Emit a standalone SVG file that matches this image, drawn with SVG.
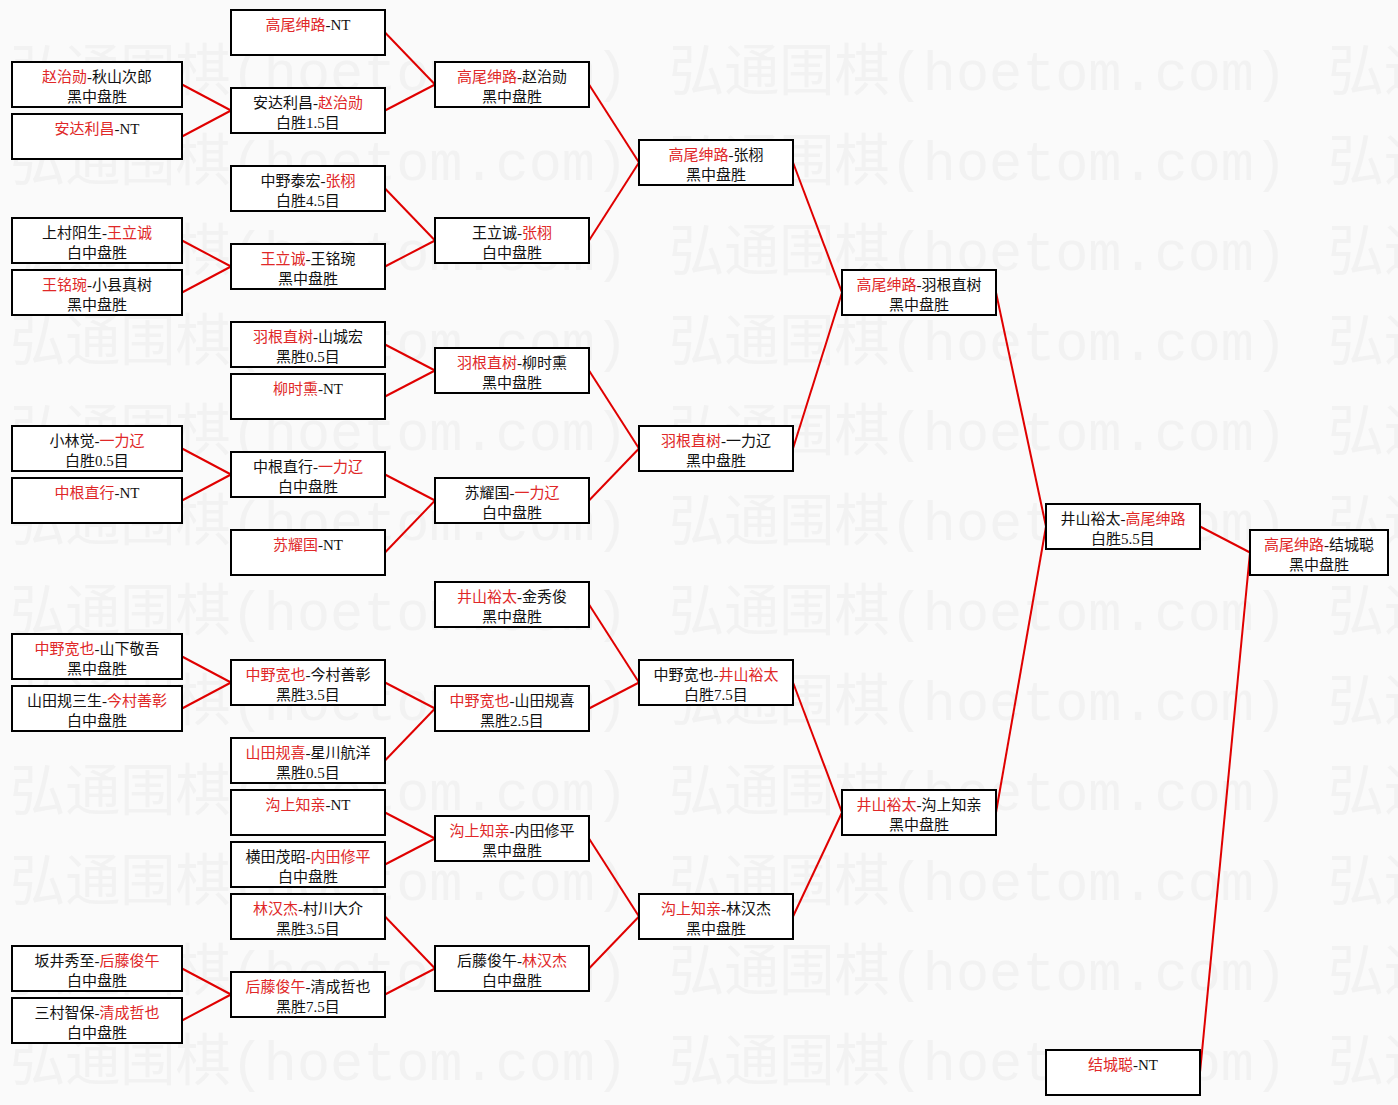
<svg xmlns="http://www.w3.org/2000/svg" width="1398" height="1105" viewBox="0 0 1398 1105">
<style>
.bg{fill:#fafafa}
.wm{font-family:"Liberation Mono","Noto Sans CJK SC",monospace;font-size:56px;fill:#f2f2f2}
.box{fill:#fff;stroke:#000;stroke-width:2}
.t{font-family:"Liberation Serif","Noto Sans CJK SC",serif;font-size:15px;fill:#111;text-anchor:middle}
.r{fill:#e02828}
.ln{stroke:#e00000;stroke-width:2;fill:none}
</style>
<rect class="bg" x="0" y="0" width="1398" height="1105"/>
<g id="watermark">
<text class="wm" x="10" y="90" textLength="618" lengthAdjust="spacingAndGlyphs">弘通围棋(hoetom.com)</text><text class="wm" x="669" y="90" textLength="618" lengthAdjust="spacingAndGlyphs">弘通围棋(hoetom.com)</text><text class="wm" x="1328" y="90">弘通</text>
<text class="wm" x="10" y="180" textLength="618" lengthAdjust="spacingAndGlyphs">弘通围棋(hoetom.com)</text><text class="wm" x="669" y="180" textLength="618" lengthAdjust="spacingAndGlyphs">弘通围棋(hoetom.com)</text><text class="wm" x="1328" y="180">弘通</text>
<text class="wm" x="10" y="270" textLength="618" lengthAdjust="spacingAndGlyphs">弘通围棋(hoetom.com)</text><text class="wm" x="669" y="270" textLength="618" lengthAdjust="spacingAndGlyphs">弘通围棋(hoetom.com)</text><text class="wm" x="1328" y="270">弘通</text>
<text class="wm" x="10" y="360" textLength="618" lengthAdjust="spacingAndGlyphs">弘通围棋(hoetom.com)</text><text class="wm" x="669" y="360" textLength="618" lengthAdjust="spacingAndGlyphs">弘通围棋(hoetom.com)</text><text class="wm" x="1328" y="360">弘通</text>
<text class="wm" x="10" y="450" textLength="618" lengthAdjust="spacingAndGlyphs">弘通围棋(hoetom.com)</text><text class="wm" x="669" y="450" textLength="618" lengthAdjust="spacingAndGlyphs">弘通围棋(hoetom.com)</text><text class="wm" x="1328" y="450">弘通</text>
<text class="wm" x="10" y="540" textLength="618" lengthAdjust="spacingAndGlyphs">弘通围棋(hoetom.com)</text><text class="wm" x="669" y="540" textLength="618" lengthAdjust="spacingAndGlyphs">弘通围棋(hoetom.com)</text><text class="wm" x="1328" y="540">弘通</text>
<text class="wm" x="10" y="630" textLength="618" lengthAdjust="spacingAndGlyphs">弘通围棋(hoetom.com)</text><text class="wm" x="669" y="630" textLength="618" lengthAdjust="spacingAndGlyphs">弘通围棋(hoetom.com)</text><text class="wm" x="1328" y="630">弘通</text>
<text class="wm" x="10" y="720" textLength="618" lengthAdjust="spacingAndGlyphs">弘通围棋(hoetom.com)</text><text class="wm" x="669" y="720" textLength="618" lengthAdjust="spacingAndGlyphs">弘通围棋(hoetom.com)</text><text class="wm" x="1328" y="720">弘通</text>
<text class="wm" x="10" y="810" textLength="618" lengthAdjust="spacingAndGlyphs">弘通围棋(hoetom.com)</text><text class="wm" x="669" y="810" textLength="618" lengthAdjust="spacingAndGlyphs">弘通围棋(hoetom.com)</text><text class="wm" x="1328" y="810">弘通</text>
<text class="wm" x="10" y="900" textLength="618" lengthAdjust="spacingAndGlyphs">弘通围棋(hoetom.com)</text><text class="wm" x="669" y="900" textLength="618" lengthAdjust="spacingAndGlyphs">弘通围棋(hoetom.com)</text><text class="wm" x="1328" y="900">弘通</text>
<text class="wm" x="10" y="990" textLength="618" lengthAdjust="spacingAndGlyphs">弘通围棋(hoetom.com)</text><text class="wm" x="669" y="990" textLength="618" lengthAdjust="spacingAndGlyphs">弘通围棋(hoetom.com)</text><text class="wm" x="1328" y="990">弘通</text>
<text class="wm" x="10" y="1080" textLength="618" lengthAdjust="spacingAndGlyphs">弘通围棋(hoetom.com)</text><text class="wm" x="669" y="1080" textLength="618" lengthAdjust="spacingAndGlyphs">弘通围棋(hoetom.com)</text><text class="wm" x="1328" y="1080">弘通</text>
</g>
<g id="connectors">
<line class="ln" x1="182" y1="84.5" x2="231" y2="110.5"/>
<line class="ln" x1="182" y1="136.5" x2="231" y2="110.5"/>
<line class="ln" x1="182" y1="240.5" x2="231" y2="266.5"/>
<line class="ln" x1="182" y1="292.5" x2="231" y2="266.5"/>
<line class="ln" x1="182" y1="448.5" x2="231" y2="474.5"/>
<line class="ln" x1="182" y1="500.5" x2="231" y2="474.5"/>
<line class="ln" x1="182" y1="656.5" x2="231" y2="682.5"/>
<line class="ln" x1="182" y1="708.5" x2="231" y2="682.5"/>
<line class="ln" x1="182" y1="968.5" x2="231" y2="994.5"/>
<line class="ln" x1="182" y1="1020.5" x2="231" y2="994.5"/>
<line class="ln" x1="385" y1="32.5" x2="435" y2="84.5"/>
<line class="ln" x1="385" y1="110.5" x2="435" y2="84.5"/>
<line class="ln" x1="385" y1="188.5" x2="435" y2="240.5"/>
<line class="ln" x1="385" y1="266.5" x2="435" y2="240.5"/>
<line class="ln" x1="385" y1="344.5" x2="435" y2="370.5"/>
<line class="ln" x1="385" y1="396.5" x2="435" y2="370.5"/>
<line class="ln" x1="385" y1="474.5" x2="435" y2="500.5"/>
<line class="ln" x1="385" y1="552.5" x2="435" y2="500.5"/>
<line class="ln" x1="385" y1="682.5" x2="435" y2="708.5"/>
<line class="ln" x1="385" y1="760.5" x2="435" y2="708.5"/>
<line class="ln" x1="385" y1="812.5" x2="435" y2="838.5"/>
<line class="ln" x1="385" y1="864.5" x2="435" y2="838.5"/>
<line class="ln" x1="385" y1="916.5" x2="435" y2="968.5"/>
<line class="ln" x1="385" y1="994.5" x2="435" y2="968.5"/>
<line class="ln" x1="589" y1="84.5" x2="639" y2="162.5"/>
<line class="ln" x1="589" y1="240.5" x2="639" y2="162.5"/>
<line class="ln" x1="589" y1="370.5" x2="639" y2="448.5"/>
<line class="ln" x1="589" y1="500.5" x2="639" y2="448.5"/>
<line class="ln" x1="589" y1="604.5" x2="639" y2="682.5"/>
<line class="ln" x1="589" y1="708.5" x2="639" y2="682.5"/>
<line class="ln" x1="589" y1="838.5" x2="639" y2="916.5"/>
<line class="ln" x1="589" y1="968.5" x2="639" y2="916.5"/>
<line class="ln" x1="793" y1="162.5" x2="842" y2="292.5"/>
<line class="ln" x1="793" y1="448.5" x2="842" y2="292.5"/>
<line class="ln" x1="793" y1="682.5" x2="842" y2="812.5"/>
<line class="ln" x1="793" y1="916.5" x2="842" y2="812.5"/>
<line class="ln" x1="996" y1="292.5" x2="1046" y2="526.5"/>
<line class="ln" x1="996" y1="812.5" x2="1046" y2="526.5"/>
<line class="ln" x1="1200" y1="526.5" x2="1250" y2="552.5"/>
<line class="ln" x1="1200" y1="1072.5" x2="1250" y2="552.5"/>
</g>
<!-- Column 1 -->
<g id="r1-1"><rect class="box" x="12" y="62" width="170" height="45"/><text class="t" x="97" y="82"><tspan class="r">赵治勋</tspan>-秋山次郎</text><text class="t" x="97" y="102">黑中盘胜</text></g>
<g id="r1-2"><rect class="box" x="12" y="114" width="170" height="45"/><text class="t" x="97" y="134"><tspan class="r">安达利昌</tspan>-NT</text></g>
<g id="r1-3"><rect class="box" x="12" y="218" width="170" height="45"/><text class="t" x="97" y="238">上村阳生-<tspan class="r">王立诚</tspan></text><text class="t" x="97" y="258">白中盘胜</text></g>
<g id="r1-4"><rect class="box" x="12" y="270" width="170" height="45"/><text class="t" x="97" y="290"><tspan class="r">王铭琬</tspan>-小县真树</text><text class="t" x="97" y="310">黑中盘胜</text></g>
<g id="r1-5"><rect class="box" x="12" y="426" width="170" height="45"/><text class="t" x="97" y="446">小林觉-<tspan class="r">一力辽</tspan></text><text class="t" x="97" y="466">白胜0.5目</text></g>
<g id="r1-6"><rect class="box" x="12" y="478" width="170" height="45"/><text class="t" x="97" y="498"><tspan class="r">中根直行</tspan>-NT</text></g>
<g id="r1-7"><rect class="box" x="12" y="634" width="170" height="45"/><text class="t" x="97" y="654"><tspan class="r">中野宽也</tspan>-山下敬吾</text><text class="t" x="97" y="674">黑中盘胜</text></g>
<g id="r1-8"><rect class="box" x="12" y="686" width="170" height="45"/><text class="t" x="97" y="706">山田规三生-<tspan class="r">今村善彰</tspan></text><text class="t" x="97" y="726">白中盘胜</text></g>
<g id="r1-9"><rect class="box" x="12" y="946" width="170" height="45"/><text class="t" x="97" y="966">坂井秀至-<tspan class="r">后藤俊午</tspan></text><text class="t" x="97" y="986">白中盘胜</text></g>
<g id="r1-10"><rect class="box" x="12" y="998" width="170" height="45"/><text class="t" x="97" y="1018">三村智保-<tspan class="r">清成哲也</tspan></text><text class="t" x="97" y="1038">白中盘胜</text></g>
<!-- Column 2 -->
<g id="r2-1"><rect class="box" x="231" y="10" width="154" height="45"/><text class="t" x="308" y="30"><tspan class="r">高尾绅路</tspan>-NT</text></g>
<g id="r2-2"><rect class="box" x="231" y="88" width="154" height="45"/><text class="t" x="308" y="108">安达利昌-<tspan class="r">赵治勋</tspan></text><text class="t" x="308" y="128">白胜1.5目</text></g>
<g id="r2-3"><rect class="box" x="231" y="166" width="154" height="45"/><text class="t" x="308" y="186">中野泰宏-<tspan class="r">张栩</tspan></text><text class="t" x="308" y="206">白胜4.5目</text></g>
<g id="r2-4"><rect class="box" x="231" y="244" width="154" height="45"/><text class="t" x="308" y="264"><tspan class="r">王立诚</tspan>-王铭琬</text><text class="t" x="308" y="284">黑中盘胜</text></g>
<g id="r2-5"><rect class="box" x="231" y="322" width="154" height="45"/><text class="t" x="308" y="342"><tspan class="r">羽根直树</tspan>-山城宏</text><text class="t" x="308" y="362">黑胜0.5目</text></g>
<g id="r2-6"><rect class="box" x="231" y="374" width="154" height="45"/><text class="t" x="308" y="394"><tspan class="r">柳时熏</tspan>-NT</text></g>
<g id="r2-7"><rect class="box" x="231" y="452" width="154" height="45"/><text class="t" x="308" y="472">中根直行-<tspan class="r">一力辽</tspan></text><text class="t" x="308" y="492">白中盘胜</text></g>
<g id="r2-8"><rect class="box" x="231" y="530" width="154" height="45"/><text class="t" x="308" y="550"><tspan class="r">苏耀国</tspan>-NT</text></g>
<g id="r2-9"><rect class="box" x="231" y="660" width="154" height="45"/><text class="t" x="308" y="680"><tspan class="r">中野宽也</tspan>-今村善彰</text><text class="t" x="308" y="700">黑胜3.5目</text></g>
<g id="r2-10"><rect class="box" x="231" y="738" width="154" height="45"/><text class="t" x="308" y="758"><tspan class="r">山田规喜</tspan>-星川航洋</text><text class="t" x="308" y="778">黑胜0.5目</text></g>
<g id="r2-11"><rect class="box" x="231" y="790" width="154" height="45"/><text class="t" x="308" y="810"><tspan class="r">沟上知亲</tspan>-NT</text></g>
<g id="r2-12"><rect class="box" x="231" y="842" width="154" height="45"/><text class="t" x="308" y="862">横田茂昭-<tspan class="r">内田修平</tspan></text><text class="t" x="308" y="882">白中盘胜</text></g>
<g id="r2-13"><rect class="box" x="231" y="894" width="154" height="45"/><text class="t" x="308" y="914"><tspan class="r">林汉杰</tspan>-村川大介</text><text class="t" x="308" y="934">黑胜3.5目</text></g>
<g id="r2-14"><rect class="box" x="231" y="972" width="154" height="45"/><text class="t" x="308" y="992"><tspan class="r">后藤俊午</tspan>-清成哲也</text><text class="t" x="308" y="1012">黑胜7.5目</text></g>
<!-- Column 3 -->
<g id="r3-1"><rect class="box" x="435" y="62" width="154" height="45"/><text class="t" x="512" y="82"><tspan class="r">高尾绅路</tspan>-赵治勋</text><text class="t" x="512" y="102">黑中盘胜</text></g>
<g id="r3-2"><rect class="box" x="435" y="218" width="154" height="45"/><text class="t" x="512" y="238">王立诚-<tspan class="r">张栩</tspan></text><text class="t" x="512" y="258">白中盘胜</text></g>
<g id="r3-3"><rect class="box" x="435" y="348" width="154" height="45"/><text class="t" x="512" y="368"><tspan class="r">羽根直树</tspan>-柳时熏</text><text class="t" x="512" y="388">黑中盘胜</text></g>
<g id="r3-4"><rect class="box" x="435" y="478" width="154" height="45"/><text class="t" x="512" y="498">苏耀国-<tspan class="r">一力辽</tspan></text><text class="t" x="512" y="518">白中盘胜</text></g>
<g id="r3-5"><rect class="box" x="435" y="582" width="154" height="45"/><text class="t" x="512" y="602"><tspan class="r">井山裕太</tspan>-金秀俊</text><text class="t" x="512" y="622">黑中盘胜</text></g>
<g id="r3-6"><rect class="box" x="435" y="686" width="154" height="45"/><text class="t" x="512" y="706"><tspan class="r">中野宽也</tspan>-山田规喜</text><text class="t" x="512" y="726">黑胜2.5目</text></g>
<g id="r3-7"><rect class="box" x="435" y="816" width="154" height="45"/><text class="t" x="512" y="836"><tspan class="r">沟上知亲</tspan>-内田修平</text><text class="t" x="512" y="856">黑中盘胜</text></g>
<g id="r3-8"><rect class="box" x="435" y="946" width="154" height="45"/><text class="t" x="512" y="966">后藤俊午-<tspan class="r">林汉杰</tspan></text><text class="t" x="512" y="986">白中盘胜</text></g>
<!-- Column 4 -->
<g id="r4-1"><rect class="box" x="639" y="140" width="154" height="45"/><text class="t" x="716" y="160"><tspan class="r">高尾绅路</tspan>-张栩</text><text class="t" x="716" y="180">黑中盘胜</text></g>
<g id="r4-2"><rect class="box" x="639" y="426" width="154" height="45"/><text class="t" x="716" y="446"><tspan class="r">羽根直树</tspan>-一力辽</text><text class="t" x="716" y="466">黑中盘胜</text></g>
<g id="r4-3"><rect class="box" x="639" y="660" width="154" height="45"/><text class="t" x="716" y="680">中野宽也-<tspan class="r">井山裕太</tspan></text><text class="t" x="716" y="700">白胜7.5目</text></g>
<g id="r4-4"><rect class="box" x="639" y="894" width="154" height="45"/><text class="t" x="716" y="914"><tspan class="r">沟上知亲</tspan>-林汉杰</text><text class="t" x="716" y="934">黑中盘胜</text></g>
<!-- Column 5 -->
<g id="r5-1"><rect class="box" x="842" y="270" width="154" height="45"/><text class="t" x="919" y="290"><tspan class="r">高尾绅路</tspan>-羽根直树</text><text class="t" x="919" y="310">黑中盘胜</text></g>
<g id="r5-2"><rect class="box" x="842" y="790" width="154" height="45"/><text class="t" x="919" y="810"><tspan class="r">井山裕太</tspan>-沟上知亲</text><text class="t" x="919" y="830">黑中盘胜</text></g>
<!-- Column 6 -->
<g id="r6-1"><rect class="box" x="1046" y="504" width="154" height="45"/><text class="t" x="1123" y="524">井山裕太-<tspan class="r">高尾绅路</tspan></text><text class="t" x="1123" y="544">白胜5.5目</text></g>
<g id="r6-2"><rect class="box" x="1046" y="1050" width="154" height="45"/><text class="t" x="1123" y="1070"><tspan class="r">结城聪</tspan>-NT</text></g>
<!-- Column 7 -->
<g id="r7-1"><rect class="box" x="1250" y="530" width="138" height="45"/><text class="t" x="1319" y="550"><tspan class="r">高尾绅路</tspan>-结城聪</text><text class="t" x="1319" y="570">黑中盘胜</text></g>
</svg>
